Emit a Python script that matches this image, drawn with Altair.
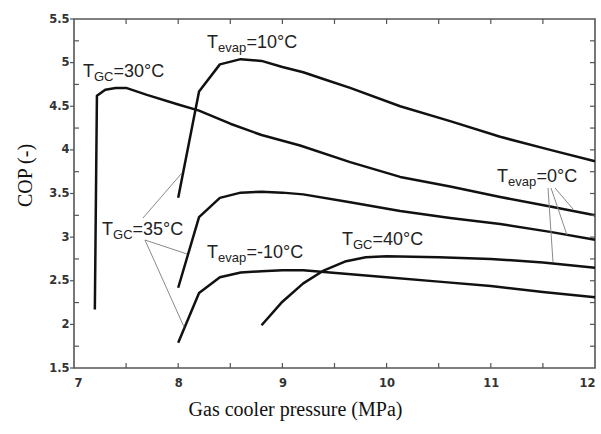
import altair as alt
import pandas as pd

# COP versus gas cooler pressure, one list pair per operating condition
p_ev10 = [8.0, 8.2, 8.4, 8.6, 8.8, 9.0, 9.2, 9.4, 9.65, 10.13, 10.61, 11.09, 11.57, 12.0]
cop_ev10 = [3.45, 4.67, 4.98, 5.04, 5.02, 4.95, 4.89, 4.81, 4.71, 4.50, 4.33, 4.15, 4.00, 3.87]

p_gc30 = [7.2, 7.22, 7.3, 7.4, 7.5, 7.7, 8.0, 8.2, 8.5, 8.8, 9.17, 9.65, 10.13, 10.61, 11.09, 11.57, 12.0]
cop_gc30 = [2.17, 4.62, 4.69, 4.71, 4.71, 4.63, 4.52, 4.45, 4.30, 4.17, 4.05, 3.86, 3.69, 3.58, 3.46, 3.35, 3.25]

p_ev0 = [8.0, 8.2, 8.4, 8.6, 8.8, 9.0, 9.2, 9.65, 10.13, 10.61, 11.09, 11.57, 12.0]
cop_ev0 = [2.42, 3.23, 3.45, 3.51, 3.52, 3.51, 3.49, 3.40, 3.30, 3.22, 3.15, 3.06, 2.97]

p_evm10 = [8.0, 8.2, 8.4, 8.6, 8.8, 9.0, 9.2, 9.4, 9.6, 10.0, 10.5, 11.0, 11.5, 12.0]
cop_evm10 = [1.79, 2.36, 2.54, 2.595, 2.61, 2.62, 2.62, 2.60, 2.58, 2.54, 2.49, 2.44, 2.37, 2.31]

p_gc40 = [8.8, 9.0, 9.2, 9.4, 9.6, 9.8, 10.0, 10.5, 11.0, 11.5, 12.0]
cop_gc40 = [1.99, 2.26, 2.47, 2.62, 2.72, 2.77, 2.78, 2.77, 2.75, 2.71, 2.65]

# Axis ticks
x_labels = [7, 8, 9, 10, 11, 12]
y_labels = [1.5, 2, 2.5, 3, 3.5, 4, 4.5, 5, 5.5]
x_ticks = [7.5, 8, 8.5, 9, 9.5, 10, 10.5, 11, 11.5]
y_major = [2, 2.5, 3, 3.5, 4, 4.5, 5]
y_minor = [1.75, 2.25, 2.75, 3.25, 3.75, 4.25, 4.75, 5.25]

# Curve labels: T + subscript + remainder, anchored at (pressure, COP)
lab_sub = ["GC", "evap", "GC", "evap", "GC", "evap"]
lab_rest = ["=30°C", "=10°C", "=35°C", "=-10°C", "=40°C", "=0°C"]
lab_p = [7.086, 8.276, 7.269, 8.276, 9.572, 11.06]
lab_cop = [4.835, 5.168, 3.024, 2.761, 2.910, 3.632]

# Leader lines from labels to curves
ld_p = [7.662, 7.681, 7.681, 11.549, 11.578, 11.616]
ld_cop = [3.219, 2.967, 2.967, 3.563, 3.563, 3.563]
ld_p2 = [8.036, 8.084, 8.056, 11.597, 11.731, 11.789]
ld_cop2 = [3.735, 2.807, 1.970, 2.715, 3.024, 3.322]

W, H = 521, 349

frames = []
for name, ps, cs in [("ev10", p_ev10, cop_ev10), ("gc30", p_gc30, cop_gc30),
                     ("ev0", p_ev0, cop_ev0), ("evm10", p_evm10, cop_evm10),
                     ("gc40", p_gc40, cop_gc40)]:
    frames.append(pd.DataFrame({"curve": name, "idx": range(len(ps)), "p": ps, "cop": cs}))
curves = pd.concat(frames, ignore_index=True)

labels = pd.DataFrame({"sub": lab_sub, "rest": lab_rest, "p": lab_p, "cop": lab_cop})
leaders = pd.DataFrame({"p": ld_p, "cop": ld_cop, "p2": ld_p2, "cop2": ld_cop2})

x_scale = alt.Scale(domain=[7, 12], nice=False, zero=False)
y_scale = alt.Scale(domain=[1.5, 5.5], nice=False, zero=False)

x_axis = alt.Axis(values=x_labels, format="d", ticks=False, tickSize=0, domain=False, grid=False,
                  labelFont="DejaVu Sans", labelFontWeight="bold", labelFontSize=11.5,
                  labelColor="#333", labelPadding=9,
                  title="Gas cooler pressure (MPa)", titleFont="Liberation Serif",
                  titleFontSize=20, titleFontWeight="normal", titleColor="#111",
                  titleX=221, titleY=47, titleAlign="center", titleBaseline="alphabetic")
y_axis = alt.Axis(values=y_labels, format="~g", ticks=False, tickSize=0, domain=False, grid=False,
                  labelFont="DejaVu Sans", labelFontWeight="bold", labelFontSize=11.5,
                  labelColor="#333", labelPadding=5,
                  title="COP (-)", titleFont="Liberation Serif", titleFontSize=20,
                  titleFontWeight="normal", titleColor="#111", titleAngle=270,
                  titleX=-49, titleY=156, titleAlign="center", titleBaseline="middle")

X = alt.X("p:Q", scale=x_scale, axis=x_axis)
Y = alt.Y("cop:Q", scale=y_scale, axis=y_axis)

line_layer = alt.Chart(curves).mark_line(
    color="#111", strokeWidth=2.5, strokeJoin="round"
).encode(x=X, y=Y, detail="curve:N", order="idx:Q")

leader_layer = alt.Chart(leaders).mark_rule(color="#8a8a8a", strokeWidth=1).encode(
    x=X, y=Y, x2="p2:Q", y2="cop2:Q")

text_style = dict(font="Liberation Sans", color="#222", align="left", baseline="alphabetic")
t_layer = alt.Chart(labels).mark_text(fontSize=18, **text_style).encode(
    x=X, y=Y, text=alt.value("T"))
gc = alt.datum.sub == "GC"
ev = alt.datum.sub == "evap"
sub_layer = alt.Chart(labels).mark_text(fontSize=13, dx=11, dy=4, **text_style).encode(
    x=X, y=Y, text="sub:N")
rest_gc = alt.Chart(labels).transform_filter(gc).mark_text(fontSize=18, dx=30.5, **text_style).encode(
    x=X, y=Y, text="rest:N")
rest_ev = alt.Chart(labels).transform_filter(ev).mark_text(fontSize=18, dx=39.5, **text_style).encode(
    x=X, y=Y, text="rest:N")

# Tick marks around the frame
tick_color = "#555"
xt = pd.DataFrame({"p": x_ticks})
bottom_ticks = alt.Chart(xt).mark_rule(color=tick_color, strokeWidth=1.2).encode(
    x=X, y=alt.value(H), y2=alt.value(H - 5))
top_ticks = alt.Chart(xt).mark_rule(color=tick_color, strokeWidth=1.2).encode(
    x=X, y=alt.value(0), y2=alt.value(5))
ymaj = pd.DataFrame({"cop": y_major + [5.5, 1.5]})
left_major = alt.Chart(ymaj).mark_rule(color=tick_color, strokeWidth=1.2).encode(
    y=Y, x=alt.value(-4), x2=alt.value(0))
ymin = pd.DataFrame({"cop": y_minor})
left_minor = alt.Chart(ymin).mark_rule(color=tick_color, strokeWidth=1.2).encode(
    y=Y, x=alt.value(0), x2=alt.value(5))
yall = pd.DataFrame({"cop": sorted(y_major + y_minor)})
right_ticks = alt.Chart(yall).mark_rule(color=tick_color, strokeWidth=1.2).encode(
    y=Y, x=alt.value(W), x2=alt.value(W - 5))

chart = alt.layer(
    line_layer, leader_layer, t_layer, sub_layer, rest_gc, rest_ev,
    bottom_ticks, top_ticks, left_major, left_minor, right_ticks
).properties(
    width=W, height=H,
    autosize=alt.AutoSizeParams(type="none"),
    padding={"left": 74, "top": 19, "right": 6, "bottom": 66},
    background="white"
).configure_view(stroke="#555", strokeWidth=1.6)

chart.save("out.html", embed_options={"renderer": "svg", "actions": False})
